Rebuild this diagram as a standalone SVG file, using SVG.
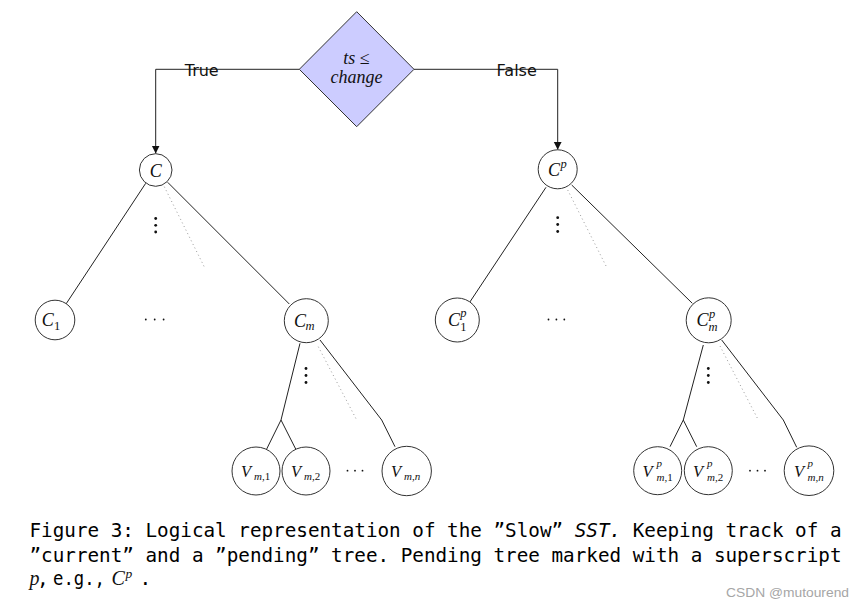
<svg xmlns="http://www.w3.org/2000/svg" width="865" height="608" viewBox="0 0 865 608">
<style>
.bg{fill:#ffffff}
.node{fill:#ffffff;stroke:#333333;stroke-width:1}
.dec{fill:#ccccff;stroke:#333333;stroke-width:1}
.edge{fill:none;stroke:#222222;stroke-width:1}
.dot{fill:none;stroke:#9a9a9a;stroke-width:1;stroke-dasharray:1 3}
.m{font-family:"Liberation Serif","DejaVu Serif",serif;font-style:italic;fill:#111111}
.r{font-style:normal}
.lbl{font-family:"DejaVu Sans","Liberation Sans",sans-serif;font-size:16px;fill:#111111}
.cap{font-family:"DejaVu Sans Mono","Liberation Mono",monospace;font-size:19.5px;fill:#000000}
.wm{font-family:"Liberation Sans","Arial",sans-serif;font-size:13px;fill:#a6a6a6}
.pt{fill:#111111}
</style>
<defs>
<marker id="arr" viewBox="0 0 8 10" refX="8" refY="5" markerWidth="8" markerHeight="10" markerUnits="userSpaceOnUse" orient="auto">
<path d="M0,1 L8,5 L0,9 Z" fill="#111111"/>
</marker>
</defs>
<rect class="bg" x="0" y="0" width="865" height="608"/>

<g id="connectors">
<path class="edge" d="M299.3 69.3 H155.7 V153.5" marker-end="url(#arr)"/>
<path class="edge" d="M414 69.3 H557.7 V149.8" marker-end="url(#arr)"/>
<line class="edge" x1="145.7" y1="183.3" x2="66" y2="304"/>
<line class="edge" x1="167.7" y1="182.3" x2="289.3" y2="304"/>
<line class="dot" x1="164.3" y1="186.7" x2="205" y2="268.3"/>
<line class="edge" x1="546" y1="187.3" x2="469" y2="303.3"/>
<line class="edge" x1="571.7" y1="185" x2="692.3" y2="303.3"/>
<line class="dot" x1="567.7" y1="190" x2="606.7" y2="267.3"/>
<polyline class="edge" points="300,343.3 281,420 266.7,449"/>
<line class="edge" x1="281" y1="420" x2="295.7" y2="449"/>
<polyline class="edge" points="320,340 381.7,420 395,446.7"/>
<line class="dot" x1="318.3" y1="346.7" x2="356.7" y2="420"/>
<polyline class="edge" points="703.3,345 683.3,420 670,446.7"/>
<line class="edge" x1="683.3" y1="420" x2="696.7" y2="446.7"/>
<polyline class="edge" points="721.7,340 783.3,420 796.7,447.3"/>
<line class="dot" x1="720" y1="346" x2="758.3" y2="420"/>
</g>

<g id="edge-labels">
<text class="lbl" x="201.7" y="76" text-anchor="middle">True</text>
<text class="lbl" x="516.7" y="76" text-anchor="middle">False</text>
</g>

<g id="decision">
<polygon class="dec" points="356.7,11.7 414,69.3 356.7,126.7 299.3,69.3"/>
<text class="m" x="356.5" y="63.5" font-size="18" text-anchor="middle">ts <tspan class="r">≤</tspan></text>
<text class="m" x="356.5" y="82.5" font-size="18" text-anchor="middle">change</text>
</g>

<g id="node-C">
<circle class="node" cx="155.7" cy="170" r="16.3"/>
<text class="m" x="155.7" y="176.5" font-size="18" text-anchor="middle">C</text>
</g>
<g id="node-Cp">
<circle class="node" cx="557.7" cy="169.3" r="19.5"/>
<text class="m" x="548" y="175.5" font-size="18">C</text>
<text class="m" x="560.5" y="168" font-size="12.5">p</text>
</g>
<g id="node-C1">
<circle class="node" cx="55" cy="320" r="19.8"/>
<text class="m" x="41.8" y="326" font-size="18">C</text>
<text class="m r" x="54" y="329.5" font-size="12.5">1</text>
</g>
<g id="node-Cm">
<circle class="node" cx="306.3" cy="320.7" r="22"/>
<text class="m" x="294" y="326.5" font-size="18">C</text>
<text class="m" x="305.5" y="330" font-size="12.5">m</text>
</g>
<g id="node-Cp1">
<circle class="node" cx="457.3" cy="320" r="22"/>
<text class="m" x="448" y="325.5" font-size="18">C</text>
<text class="m" x="460.3" y="317" font-size="12.5">p</text>
<text class="m r" x="460.3" y="331" font-size="12.5">1</text>
</g>
<g id="node-Cpm">
<circle class="node" cx="708.7" cy="320.3" r="22.5"/>
<text class="m" x="696.5" y="326" font-size="18">C</text>
<text class="m" x="709" y="317.5" font-size="12.5">p</text>
<text class="m" x="708.5" y="331" font-size="12.5">m</text>
</g>

<g id="node-Vm1">
<circle class="node" cx="256" cy="471" r="24"/>
<text class="m" x="241" y="476.5" font-size="16.5">V</text>
<text class="m" x="254" y="479.5" font-size="11">m<tspan class="r">,1</tspan></text>
</g>
<g id="node-Vm2">
<circle class="node" cx="306" cy="471" r="24"/>
<text class="m" x="291" y="476.5" font-size="16.5">V</text>
<text class="m" x="304" y="479.5" font-size="11">m<tspan class="r">,2</tspan></text>
</g>
<g id="node-Vmn">
<circle class="node" cx="406.7" cy="471" r="24.7"/>
<text class="m" x="391" y="476.5" font-size="16.5">V</text>
<text class="m" x="404" y="479.5" font-size="11">m<tspan class="r">,</tspan>n</text>
</g>
<g id="node-Vpm1">
<circle class="node" cx="657.7" cy="470.7" r="24"/>
<text class="m" x="642.5" y="476.5" font-size="16.5">V</text>
<text class="m" x="656.5" y="466.5" font-size="11">p</text>
<text class="m" x="656.5" y="480.5" font-size="11">m<tspan class="r">,1</tspan></text>
</g>
<g id="node-Vpm2">
<circle class="node" cx="708.3" cy="470.7" r="24"/>
<text class="m" x="693" y="476.5" font-size="16.5">V</text>
<text class="m" x="707" y="466.5" font-size="11">p</text>
<text class="m" x="707" y="480.5" font-size="11">m<tspan class="r">,2</tspan></text>
</g>
<g id="node-Vpmn">
<circle class="node" cx="809" cy="470.7" r="24.8"/>
<text class="m" x="794" y="476.5" font-size="16.5">V</text>
<text class="m" x="807.5" y="466.5" font-size="11">p</text>
<text class="m" x="807.5" y="480.5" font-size="11">m<tspan class="r">,</tspan>n</text>
</g>

<g id="ellipses">
<circle class="pt" cx="155.7" cy="218.5" r="1.4"/><circle class="pt" cx="155.7" cy="225.3" r="1.4"/><circle class="pt" cx="155.7" cy="232" r="1.4"/>
<circle class="pt" cx="557.7" cy="217.7" r="1.4"/><circle class="pt" cx="557.7" cy="224.5" r="1.4"/><circle class="pt" cx="557.7" cy="231.5" r="1.4"/>
<circle class="pt" cx="306" cy="368.5" r="1.4"/><circle class="pt" cx="306" cy="375.5" r="1.4"/><circle class="pt" cx="306" cy="382.5" r="1.4"/>
<circle class="pt" cx="708.3" cy="368.5" r="1.4"/><circle class="pt" cx="708.3" cy="375.5" r="1.4"/><circle class="pt" cx="708.3" cy="382.5" r="1.4"/>
<circle class="pt" cx="145.8" cy="319.5" r="0.9"/><circle class="pt" cx="154.7" cy="319.5" r="0.9"/><circle class="pt" cx="163.6" cy="319.5" r="0.9"/>
<circle class="pt" cx="548.5" cy="319.5" r="0.9"/><circle class="pt" cx="556.4" cy="319.5" r="0.9"/><circle class="pt" cx="564.3" cy="319.5" r="0.9"/>
<circle class="pt" cx="347.5" cy="470.7" r="0.9"/><circle class="pt" cx="355" cy="470.7" r="0.9"/><circle class="pt" cx="362.5" cy="470.7" r="0.9"/>
<circle class="pt" cx="750" cy="470.7" r="0.9"/><circle class="pt" cx="757.5" cy="470.7" r="0.9"/><circle class="pt" cx="765" cy="470.7" r="0.9"/>
</g>

<g id="caption">
<text class="cap" x="29.5" y="536.5" textLength="812" lengthAdjust="spacingAndGlyphs">Figure 3: Logical representation of the ”Slow” <tspan font-style="italic">SST.</tspan> Keeping track of a</text>
<text class="cap" x="29.5" y="561.5" textLength="812" lengthAdjust="spacingAndGlyphs">”current” and a ”pending” tree. Pending tree marked with a superscript</text>
<text class="cap" y="585"><tspan class="m" x="29.5" font-size="20">p</tspan><tspan x="37">,</tspan><tspan x="53" textLength="52" lengthAdjust="spacingAndGlyphs">e.g.,</tspan><tspan class="m" x="111.5" font-size="20">C</tspan><tspan class="m" x="125.5" dy="-7.5" font-size="13.5">p</tspan><tspan x="139.5" dy="7.5">.</tspan></text>
<text class="wm" x="726" y="597.3" textLength="123" lengthAdjust="spacingAndGlyphs">CSDN @mutourend</text>
</g>
</svg>
